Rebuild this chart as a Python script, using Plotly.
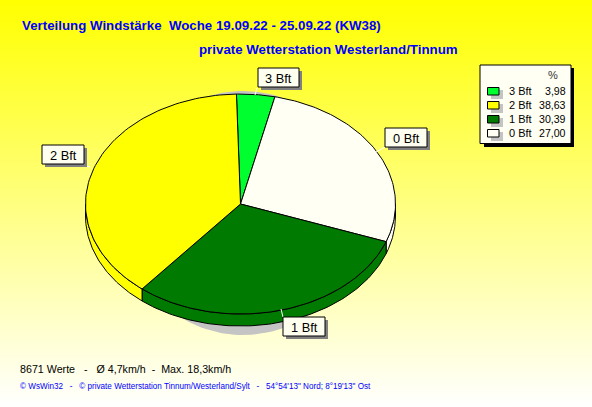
import math
import plotly.graph_objects as go

# ---- data ----
categories = ["3 Bft", "0 Bft", "1 Bft", "2 Bft"]     # clockwise from 12 o'clock
percent = [3.98, 27.00, 30.39, 38.63]
percent_labels = ["3,98", "27,00", "30,39", "38,63"]
colors = ["#00ff2e", "#fffff4", "#007a00", "#ffff00"]
legend_order = [0, 3, 2, 1]

title1 = "Verteilung Windstärke  Woche 19.09.22 - 25.09.22 (KW38)"
title2 = "private Wetterstation Westerland/Tinnum"
footer1 = "8671 Werte   -   Ø 4,7km/h  -  Max. 18,3km/h"
footer2 = "© WsWin32   -   © private Wetterstation Tinnum/Westerland/Sylt   -   54°54'13\" Nord; 8°19'13\" Ost"

# ---- geometry / style ----
W, H = 592, 407
CX, CY, RX, RY = 240.5, 204, 155, 110
DEPTH = 12
START = math.radians(-1.5)
FONT = "Liberation Sans"


def ell(a, cx=CX, cy=CY, rx=RX, ry=RY):
    return cx + rx * math.sin(a), cy - ry * math.cos(a)


def arc(a0, a1, n=90, **kw):
    pts = [ell(a0 + (a1 - a0) * i / n, **kw) for i in range(n + 1)]
    return [p[0] for p in pts], [p[1] for p in pts]


fig = go.Figure()

# shadow below the pie
sx, sy = arc(0, 2 * math.pi, 180, cx=243, cy=213, rx=120, ry=122)
fig.add_trace(go.Scatter(x=sx, y=sy, mode="lines", fill="toself", fillcolor="#c4c4c4",
                         line=dict(width=0), hoverinfo="skip"))

# slices: side walls, then faces
tot = sum(percent)
edges = [START]
for p in percent:
    edges.append(edges[-1] + p / tot * 2 * math.pi)

for i in range(len(percent)):
    a0, a1 = edges[i], edges[i + 1]
    lo, hi = max(a0, math.pi / 2), min(a1, 3 * math.pi / 2)
    if lo < hi:
        x, y = arc(lo, hi)
        xs = x + x[::-1] + [x[0]]
        ys = [v + DEPTH for v in y] + y[::-1] + [y[0] + DEPTH]
        fig.add_trace(go.Scatter(x=xs, y=ys, mode="lines", fill="toself", fillcolor=colors[i],
                                 line=dict(color="#000000", width=1), hoverinfo="skip"))

for i in range(len(percent)):
    x, y = arc(edges[i], edges[i + 1])
    fig.add_trace(go.Scatter(x=[CX] + x + [CX], y=[CY] + y + [CY], mode="lines", fill="toself",
                             fillcolor=colors[i], line=dict(color="#000000", width=1),
                             hoverinfo="skip"))

shapes, annotations = [], []


def rect(x0, y0, x1, y1, fill, line=None):
    shapes.append(dict(type="rect", x0=x0, y0=y0, x1=x1, y1=y1, xref="x", yref="y", layer="above",
                       fillcolor=fill, line=dict(color=line or fill, width=1 if line else 0)))


def text(x, y, s, size, color="#000000", anchor="left", bold=False):
    pad = {"left": -2, "right": 2, "center": 0}[anchor]
    annotations.append(dict(x=x + pad, y=y, xref="x", yref="y", text=f"<b>{s}</b>" if bold else s,
                            showarrow=False, xanchor=anchor, yanchor="middle",
                            font=dict(family=FONT, size=size, color=color)))


# callouts: box and leader for each slice
label_boxes = {0: (258, 68, 299, 87), 1: (385, 128, 427, 147), 3: (42, 145, 84, 164), 2: (283, 317, 325, 336)}
leaders = {0: (255, 95, 257, 88), 1: (376, 152, 385, 147), 3: (84, 165, 90, 167), 2: (281, 309, 283, 317)}
for k, (x0, y0, x1, y1) in label_boxes.items():
    lx0, ly0, lx1, ly1 = leaders[k]
    shapes.append(dict(type="line", x0=lx0, y0=ly0, x1=lx1, y1=ly1, xref="x", yref="y",
                       layer="above", line=dict(color="#ffffff", width=1)))
    rect(x0 + 3, y0 + 3, x1 + 3, y1 + 3, "#808080")
    rect(x0, y0, x1, y1, "#fffff0", "#000000")
    text((x0 + x1) / 2, (y0 + y1) / 2 + 0.5, categories[k], 12.8, anchor="center")

# legend
rect(484, 68, 574, 147, "#000000")
rect(480, 65, 571, 143.5, "#fffff4", "#000000")
text(553, 74.5, "%", 11, color="#333333", anchor="center")
for row, idx in enumerate(legend_order):
    y = 91 + row * 14
    rect(491, y - 1, 503, y + 8, "#c4c4c4")
    rect(487.5, y - 3.5, 499, y + 4, colors[idx], "#000000")
    text(509, y, categories[idx], 11)
    text(566, y, percent_labels[idx], 10.6, anchor="right")

# titles and footer
text(22, 25, title1, 13.3, color="#0000ff", bold=True)
text(199, 49.5, title2, 13.3, color="#0000ff", bold=True)
text(20, 369, footer1, 10.7)
text(20, 386, footer2, 8.15, color="#0000ff")

gradient = ("data:image/svg+xml;utf8,<svg xmlns='http://www.w3.org/2000/svg' width='592' height='407'>"
            "<defs><linearGradient id='g' x1='0' y1='0' x2='0' y2='1'>"
            "<stop offset='0' stop-color='%23ffff00'/><stop offset='1' stop-color='%23ffffff'/>"
            "</linearGradient></defs><rect width='592' height='407' fill='url(%23g)'/></svg>")

fig.update_layout(
    width=W, height=H, autosize=False, showlegend=False,
    margin=dict(l=0, r=0, t=0, b=0),
    paper_bgcolor="#ffffa0", plot_bgcolor="rgba(0,0,0,0)",
    xaxis=dict(range=[0, W], visible=False, fixedrange=True),
    yaxis=dict(range=[H, 0], visible=False, fixedrange=True),
    shapes=shapes, annotations=annotations,
    images=[dict(source=gradient, xref="paper", yref="paper", x=0, y=1, sizex=1, sizey=1,
                 sizing="stretch", xanchor="left", yanchor="top", layer="below")],
)
fig.write_html("out.html", config=dict(displayModeBar=False),
               post_script="document.body.style.margin='0';document.body.style.overflow='hidden';"
                           "document.documentElement.style.overflow='hidden';")
